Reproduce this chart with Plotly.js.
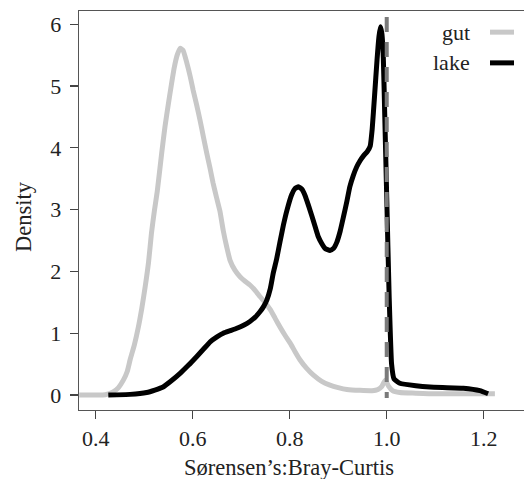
<!DOCTYPE html>
<html>
<head>
<meta charset="utf-8">
<script src="https://cdn.plot.ly/plotly-3.0.1.min.js"></script>
<style>html,body{margin:0;padding:0;background:#fff;overflow:hidden}</style>
</head>
<body>
<div id="chart" style="width:524px;height:479px"></div>
<script>
const gutX = [0.366,0.400,0.420,0.436,0.447,0.457,0.465,0.471,0.480,0.488,0.495,0.502,0.509,0.515,0.521,0.527,0.536,0.543,0.550,0.556,0.562,0.568,0.574,0.580,0.588,0.595,0.601,0.608,0.615,0.622,0.629,0.636,0.642,0.649,0.656,0.663,0.670,0.677,0.687,0.698,0.708,0.718,0.729,0.739,0.750,0.760,0.770,0.780,0.790,0.801,0.811,0.821,0.835,0.849,0.866,0.883,0.900,0.918,0.945,0.970,0.982,0.990,0.997,1.004,1.012,1.027,1.060,1.100,1.223];
const gutY = [0,0,0.005,0.05,0.12,0.24,0.38,0.57,0.82,1.10,1.40,1.75,2.15,2.62,2.98,3.30,3.91,4.35,4.72,5.02,5.30,5.50,5.61,5.58,5.37,5.15,4.93,4.70,4.45,4.18,3.91,3.66,3.43,3.20,2.98,2.66,2.40,2.18,2.02,1.91,1.84,1.78,1.69,1.59,1.49,1.38,1.24,1.10,0.97,0.84,0.70,0.57,0.43,0.32,0.22,0.16,0.12,0.09,0.075,0.07,0.09,0.14,0.24,0.14,0.07,0.04,0.03,0.02,0.02];
const lakeX = [0.426,0.471,0.505,0.522,0.539,0.556,0.574,0.591,0.608,0.622,0.636,0.650,0.663,0.677,0.691,0.705,0.718,0.729,0.739,0.746,0.753,0.760,0.766,0.773,0.780,0.787,0.794,0.804,0.811,0.818,0.825,0.832,0.839,0.846,0.853,0.859,0.866,0.873,0.883,0.890,0.897,0.904,0.911,0.918,0.924,0.931,0.938,0.945,0.952,0.960,0.966,0.970,0.975,0.980,0.984,0.987,0.990,0.993,0.996,1.000,1.005,1.010,1.015,1.027,1.060,1.089,1.158,1.192,1.209];
const lakeY = [0,0.01,0.04,0.08,0.13,0.23,0.35,0.48,0.62,0.74,0.86,0.94,1.00,1.04,1.08,1.13,1.19,1.26,1.35,1.43,1.54,1.72,1.97,2.20,2.48,2.75,2.98,3.24,3.34,3.37,3.33,3.22,3.06,2.89,2.71,2.56,2.45,2.37,2.34,2.37,2.47,2.65,2.89,3.14,3.37,3.55,3.69,3.79,3.87,3.94,4.03,4.30,4.85,5.42,5.80,5.96,5.85,5.45,4.50,3.20,1.60,0.50,0.26,0.19,0.15,0.13,0.11,0.07,0.02];
const refX = 1.0;
const xTicks = [0.4,0.6,0.8,1.0,1.2];
const xTickText = ["0.4","0.6","0.8","1.0","1.2"];
const yTicks = [0,1,2,3,4,5,6];
const seriesNames = ["gut","lake"];
const seriesColors = ["#c8c8c8","#000000"];
const xTitle = "Sørensen’s:Bray-Curtis";
const yTitle = "Density";

const FONT = "Liberation Serif, Times New Roman, serif";
const TXT = "#222";
const traces = [
  {x: gutX, y: gutY, type: "scatter", mode: "lines", name: seriesNames[0],
   line: {color: seriesColors[0], width: 5, shape: "spline", smoothing: 0.5}, showlegend: false, hoverinfo: "skip"},
  {x: lakeX, y: lakeY, type: "scatter", mode: "lines", name: seriesNames[1],
   line: {color: seriesColors[1], width: 5, shape: "spline", smoothing: 0.4}, showlegend: false, hoverinfo: "skip"}
];

const layout = {
  width: 524, height: 479,
  margin: {l: 79, r: 0, t: 11, b: 69, pad: 0},
  paper_bgcolor: "#fff", plot_bgcolor: "#fff",
  font: {family: FONT, size: 22, color: TXT},
  showlegend: false,
  xaxis: {
    range: [0.3656, 1.283], tickvals: xTicks, ticktext: xTickText,
    ticks: "outside", ticklen: 8, tickwidth: 1.3, tickcolor: "#444",
    showline: true, linecolor: "#555", linewidth: 1.3, mirror: true,
    showgrid: false, zeroline: false,
    tickfont: {family: FONT, size: 22, color: TXT}
  },
  yaxis: {
    range: [-0.243, 6.214], tickvals: yTicks,
    ticks: "outside", ticklen: 8, tickwidth: 1.3, tickcolor: "#444",
    showline: true, linecolor: "#555", linewidth: 1.3, mirror: false,
    showgrid: false, zeroline: false, ticklabelstandoff: 4,
    tickfont: {family: FONT, size: 22, color: TXT}
  },
  shapes: [
    {type: "line", xref: "x", yref: "paper", x0: refX, x1: refX, y0: 0.985, y1: 0.03,
     line: {color: "#7a7a7a", width: 4, dash: "15px,10px"}},
    {type: "line", xref: "paper", yref: "paper", x0: 0.9236, x1: 0.9775, y0: 0.947, y1: 0.947,
     line: {color: seriesColors[0], width: 5}},
    {type: "line", xref: "paper", yref: "paper", x0: 0.9236, x1: 0.9775, y0: 0.870, y1: 0.870,
     line: {color: seriesColors[1], width: 5}}
  ],
  annotations: [
    {xref: "paper", yref: "paper", x: 0.883, y: 0.945, xanchor: "right", yanchor: "middle",
     text: seriesNames[0], showarrow: false, font: {family: FONT, size: 22, color: TXT}},
    {xref: "paper", yref: "paper", x: 0.883, y: 0.872, xanchor: "right", yanchor: "middle",
     text: seriesNames[1], showarrow: false, font: {family: FONT, size: 22, color: TXT}},
    {xref: "paper", yref: "paper", x: (289 - 79) / 445, y: -(467 - 410) / 399, xanchor: "center", yanchor: "middle",
     text: xTitle, showarrow: false, font: {family: FONT, size: 22.5, color: TXT}},
    {xref: "paper", yref: "paper", x: -(79 - 23) / 445, y: (410 - 217) / 399, xanchor: "center", yanchor: "middle",
     text: yTitle, textangle: -90, showarrow: false, font: {family: FONT, size: 22.5, color: TXT}}
  ]
};

Plotly.newPlot("chart", traces, layout, {staticPlot: true, displayModeBar: false});
</script>
</body>
</html>
